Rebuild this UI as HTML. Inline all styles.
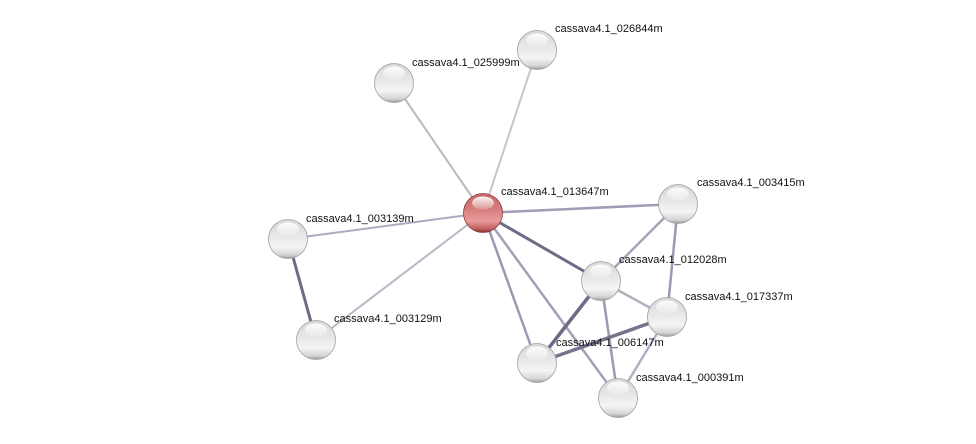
<!DOCTYPE html>
<html><head><meta charset="utf-8"><style>html,body{margin:0;padding:0;background:#fff;}svg{display:block}</style></head>
<body>
<svg width="976" height="444" viewBox="0 0 976 444" xmlns="http://www.w3.org/2000/svg">
<defs>
<linearGradient id="g" x1="0" y1="0" x2="0" y2="1">
<stop offset="0" stop-color="#d8d8d8"/><stop offset="0.35" stop-color="#e4e4e4"/><stop offset="0.7" stop-color="#f4f4f4"/><stop offset="0.9" stop-color="#d6d6d6"/><stop offset="1" stop-color="#9c9c9c"/>
</linearGradient>
<linearGradient id="r" x1="0" y1="0" x2="0" y2="1">
<stop offset="0" stop-color="#c86a6a"/><stop offset="0.35" stop-color="#d47878"/><stop offset="0.7" stop-color="#e89a9a"/><stop offset="0.9" stop-color="#c46060"/><stop offset="1" stop-color="#8a3030"/>
</linearGradient>
<linearGradient id="hl" x1="0" y1="0" x2="0" y2="1"><stop offset="0" stop-color="#fff" stop-opacity="0.95"/><stop offset="1" stop-color="#fff" stop-opacity="0.2"/></linearGradient>
</defs>
<g stroke-linecap="round">
<line x1="483" y1="213" x2="537" y2="50" stroke="#c4c4d2" stroke-width="2"/>
<line x1="483" y1="213" x2="394" y2="83" stroke="#b8b8c6" stroke-width="2"/>
<line x1="483" y1="213" x2="678" y2="204" stroke="#9d9db4" stroke-width="2.5"/>
<line x1="483" y1="213" x2="288" y2="239" stroke="#acacc0" stroke-width="2"/>
<line x1="483" y1="213" x2="316" y2="340" stroke="#b8b8c8" stroke-width="2"/>
<line x1="483" y1="213" x2="601" y2="281" stroke="#6c6c88" stroke-width="3"/>
<line x1="483" y1="213" x2="537" y2="363" stroke="#9a9ab2" stroke-width="2.5"/>
<line x1="483" y1="213" x2="618" y2="398" stroke="#a0a0b6" stroke-width="2.5"/>
<line x1="288" y1="239" x2="316" y2="340" stroke="#6c6c88" stroke-width="3"/>
<line x1="678" y1="204" x2="601" y2="281" stroke="#a4a4ba" stroke-width="2.5"/>
<line x1="678" y1="204" x2="667" y2="317" stroke="#9a9ab2" stroke-width="2.5"/>
<line x1="601" y1="281" x2="667" y2="317" stroke="#b0b0c2" stroke-width="2.5"/>
<line x1="601" y1="281" x2="537" y2="363" stroke="#6c6c88" stroke-width="3.5"/>
<line x1="601" y1="281" x2="618" y2="398" stroke="#9a9ab2" stroke-width="2.5"/>
<line x1="667" y1="317" x2="537" y2="363" stroke="#74748e" stroke-width="3.5"/>
<line x1="667" y1="317" x2="618" y2="398" stroke="#b0b0c2" stroke-width="2.5"/>
</g>
<g font-family="Liberation Sans, sans-serif" font-size="11" fill="#111">
<text x="412" y="66">cassava4.1_025999m</text>
<text x="555" y="32">cassava4.1_026844m</text>
<text x="501" y="195">cassava4.1_013647m</text>
<text x="697" y="186">cassava4.1_003415m</text>
<text x="306" y="222">cassava4.1_003139m</text>
<text x="619" y="263">cassava4.1_012028m</text>
<text x="685" y="300">cassava4.1_017337m</text>
<text x="334" y="322">cassava4.1_003129m</text>
<text x="556" y="346">cassava4.1_006147m</text>
<text x="636" y="381">cassava4.1_000391m</text>
</g>
<g>
<g transform="translate(537,50)"><circle r="19.5" fill="url(#g)" stroke="#a0a0a0" stroke-width="0.8"/><ellipse cy="-10" rx="11" ry="6.5" fill="url(#hl)"/></g>
<g transform="translate(394,83)"><circle r="19.5" fill="url(#g)" stroke="#a0a0a0" stroke-width="0.8"/><ellipse cy="-10" rx="11" ry="6.5" fill="url(#hl)"/></g>
<g transform="translate(483,213)"><circle r="19.5" fill="url(#r)" stroke="#8a3a3a" stroke-width="0.8"/><ellipse cy="-10" rx="11" ry="6.5" fill="url(#hl)"/></g>
<g transform="translate(678,204)"><circle r="19.5" fill="url(#g)" stroke="#a0a0a0" stroke-width="0.8"/><ellipse cy="-10" rx="11" ry="6.5" fill="url(#hl)"/></g>
<g transform="translate(288,239)"><circle r="19.5" fill="url(#g)" stroke="#a0a0a0" stroke-width="0.8"/><ellipse cy="-10" rx="11" ry="6.5" fill="url(#hl)"/></g>
<g transform="translate(601,281)"><circle r="19.5" fill="url(#g)" stroke="#a0a0a0" stroke-width="0.8"/><ellipse cy="-10" rx="11" ry="6.5" fill="url(#hl)"/></g>
<g transform="translate(667,317)"><circle r="19.5" fill="url(#g)" stroke="#a0a0a0" stroke-width="0.8"/><ellipse cy="-10" rx="11" ry="6.5" fill="url(#hl)"/></g>
<g transform="translate(316,340)"><circle r="19.5" fill="url(#g)" stroke="#a0a0a0" stroke-width="0.8"/><ellipse cy="-10" rx="11" ry="6.5" fill="url(#hl)"/></g>
<g transform="translate(537,363)"><circle r="19.5" fill="url(#g)" stroke="#a0a0a0" stroke-width="0.8"/><ellipse cy="-10" rx="11" ry="6.5" fill="url(#hl)"/></g>
<g transform="translate(618,398)"><circle r="19.5" fill="url(#g)" stroke="#a0a0a0" stroke-width="0.8"/><ellipse cy="-10" rx="11" ry="6.5" fill="url(#hl)"/></g>
</g>
</svg>
</body></html>
